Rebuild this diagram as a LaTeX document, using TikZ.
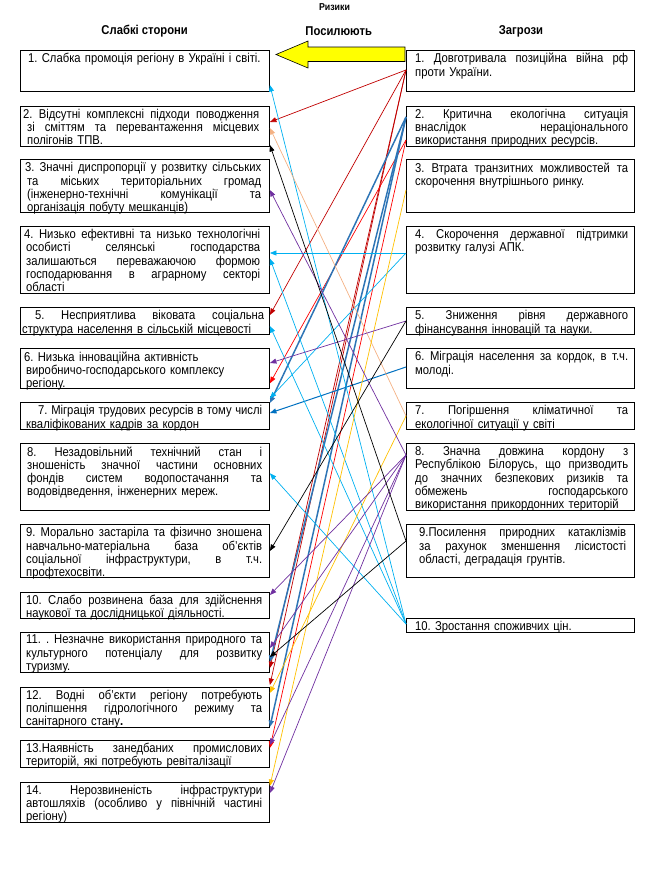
\documentclass[tikz,border=0pt]{standalone}
\usepackage{fontspec}
\setmainfont[FakeStretch=0.88]{Liberation Sans}
\usetikzlibrary{arrows.meta,calc}
\definecolor{dred}{HTML}{C00000}
\definecolor{bred}{HTML}{FF0000}
\definecolor{tblue}{HTML}{2E75B6}
\definecolor{mblue}{HTML}{0070C0}
\definecolor{lblue}{HTML}{00B0F0}
\definecolor{peach}{HTML}{F4B183}
\definecolor{ylw}{HTML}{FFC000}
\definecolor{prp}{HTML}{7030A0}
\definecolor{bigyellow}{HTML}{FFFF00}
\newcommand\jw[2]{\makebox[#1][s]{\spaceskip=0pt\xspaceskip=0pt #2}}
\newcommand\jl[1]{\jw{236pt}{#1}}
\newcommand\jr[1]{\jw{213pt}{#1}}
\newcommand\jrn[1]{\jw{207pt}{#1}}
\begin{document}
\begin{tikzpicture}[x=1pt,y=-1pt,
  lbox/.style={draw=black,line width=0.9pt,inner sep=0pt,anchor=north west,minimum width=249pt,minimum height=#1},
  rbox/.style={draw=black,line width=0.9pt,inner sep=0pt,anchor=north west,minimum width=228pt,minimum height=#1},
  txt/.style={inner sep=0pt,anchor=north west,align=left,text width=#1,font={\fontsize{12.8}{13.3}\selectfont\parindent=0pt\frenchspacing}},
  hdr/.style={inner sep=0pt,font={\fontsize{12.8}{14}\selectfont\bfseries}},
  con/.style={line width=0.7pt,-{Triangle[length=6.5pt,width=5pt]}},
  thick con/.style={line width=1.5pt,-{Triangle[length=6.5pt,width=5pt]}}
]
\useasboundingbox (0,0) rectangle (667,884);

% headers
\node[inner sep=0pt,font={\fontsize{10}{11}\selectfont\bfseries}] (title) at (334.5,7.5) {Ризики};
\node[hdr] (hL) at (144.7,31) {Слабкі сторони};
\node[hdr] (hM) at (338.7,31) {Посилюють};
\node[hdr] (hR) at (521,31) {Загрози};

% big yellow arrow
\filldraw[fill=bigyellow,draw=black,line width=0.6pt]
  (276,54.5) -- (308,41) -- (308,47) -- (405,47) -- (405,61.5) -- (308,61.5) -- (308,68) -- cycle;

% left boxes
\node[lbox=41pt]   (L1)  at (20,50) {};
\node[lbox=40pt]   (L2)  at (20,105.7) {};
\node[lbox=53pt]   (L3)  at (20,159.3) {};
\node[lbox=67.3pt] (L4)  at (20,226) {};
\node[lbox=27pt]   (L5)  at (20,307.3) {};
\node[lbox=40pt]   (L6)  at (20,348.3) {};
\node[lbox=27pt]   (L7)  at (20,402.3) {};
\node[lbox=67pt]   (L8)  at (20,443.3) {};
\node[lbox=53pt]   (L9)  at (20,524.3) {};
\node[lbox=26.6pt] (L10) at (20,591.7) {};
\node[lbox=40.6pt] (L11) at (20,631.7) {};
\node[lbox=40pt]   (L12) at (20,686.7) {};
\node[lbox=27.3pt] (L13) at (20,740) {};
\node[lbox=40pt]   (L14) at (20,781.7) {};

% right boxes
\node[rbox=41pt]   (R1)  at (406,50) {};
\node[rbox=40pt]   (R2)  at (406,105.7) {};
\node[rbox=53pt]   (R3)  at (406,159.3) {};
\node[rbox=67.3pt] (R4)  at (406,226) {};
\node[rbox=27pt]   (R5)  at (406,307.3) {};
\node[rbox=40pt]   (R6)  at (406,348.3) {};
\node[rbox=27pt]   (R7)  at (406,402.3) {};
\node[rbox=67pt]   (R8)  at (406,443.3) {};
\node[rbox=53pt]   (R9)  at (406,524.3) {};
\node[rbox=14pt]   (R10) at (406,618.3) {};

% left texts
\node[txt=236pt] (L1t) at ([shift={(8,3)}]L1.north west) {1. Слабка промоція регіону в Україні і світі.};
\node[txt=236pt] (L2t) at ([shift={(3,3)}]L2.north west) {\jl{2. Відсутні комплексні підходи поводження}\\\hspace*{4pt}\jw{232pt}{зі сміттям та перевантаження місцевих}\\\hspace*{4pt}полігонів ТПВ.};
\node[txt=236pt] (L3t) at ([shift={(5,3)}]L3.north west) {\jl{3. Значні диспропорції у розвитку сільських}\\\hspace*{2pt}\jw{234pt}{та міських територіальних громад}\\\hspace*{2pt}\jw{234pt}{(інженерно-технічні комунікації та}\\\hspace*{2pt}організація побуту мешканців)};
\node[txt=236pt] (L4t) at ([shift={(4,3)}]L4.north west) {\jl{4. Низько ефективні та низько технологічні}\\\hspace*{2pt}\jw{234pt}{особисті селянські господарства}\\\hspace*{2pt}\jw{234pt}{залишаються переважаючою формою}\\\hspace*{2pt}\jw{234pt}{господарювання в аграрному секторі}\\\hspace*{2pt}області};
\node[txt=242pt] (L5t) at ([shift={(2,3)}]L5.north west) {\hspace*{13pt}\jw{229pt}{5. Несприятлива віковата соціальна}\\структура населення в сільській місцевості};
\node[txt=236pt] (L6t) at ([shift={(4,3)}]L6.north west) {6. Низька інноваційна активність\\\hspace*{2pt}виробничо-господарського комплексу\\\hspace*{2pt}регіону.};
\node[txt=236pt] (L7t) at ([shift={(6,3)}]L7.north west) {\hspace*{12pt}\jw{224pt}{7. Міграція трудових ресурсів в тому числі}\\кваліфікованих кадрів за кордон};
\node[txt=236pt] (L8t) at ([shift={(7,3)}]L8.north west) {\jw{235pt}{8. Незадовільний технічний стан і}\\\jw{235pt}{зношеність значної частини основних}\\\jw{235pt}{фондів систем водопостачання та}\\водовідведення, інженерних мереж.};
\node[txt=236pt] (L9t) at ([shift={(6,3)}]L9.north west) {\jl{9. Морально застаріла та фізично зношена}\\\jl{навчально-матеріальна база об’єктів}\\\jl{соціальної інфраструктури, в т.ч.}\\профтехосвіти.};
\node[txt=236pt] (L10t) at ([shift={(6,3)}]L10.north west) {\jl{10. Слабо розвинена база для здійснення}\\наукової та дослідницької діяльності.};
\node[txt=236pt] (L11t) at ([shift={(6,3)}]L11.north west) {\jl{11. . Незначне використання природного та}\\\jl{культурного потенціалу для розвитку}\\туризму.};
\node[txt=236pt] (L12t) at ([shift={(6,3)}]L12.north west) {\jl{12. Водні об’єкти регіону потребують}\\\jl{поліпшення гідрологічного режиму та}\\санітарного стану\textbf{.}};
\node[txt=236pt] (L13t) at ([shift={(6,3)}]L13.north west) {\jl{13.Наявність занедбаних промислових}\\територій, які потребують ревіталізації};
\node[txt=236pt] (L14t) at ([shift={(6,3)}]L14.north west) {\jl{14. Нерозвиненість інфраструктури}\\\jl{автошляхів (особливо у північній частині}\\регіону)};

% right texts
\node[txt=213pt] (R1t) at ([shift={(9,3)}]R1.north west) {\jr{1. Довготривала позиційна війна рф}\\проти України.};
\node[txt=213pt] (R2t) at ([shift={(9,3)}]R2.north west) {\jr{2. Критична екологічна ситуація}\\\jr{внаслідок нераціонального}\\використання природних ресурсів.};
\node[txt=213pt] (R3t) at ([shift={(9,3)}]R3.north west) {\jr{3. Втрата транзитних можливостей та}\\скорочення внутрішнього ринку.};
\node[txt=213pt] (R4t) at ([shift={(9,3)}]R4.north west) {\jr{4. Скорочення державної підтримки}\\розвитку галузі АПК.};
\node[txt=213pt] (R5t) at ([shift={(9,3)}]R5.north west) {\jr{5. Зниження рівня державного}\\фінансування інновацій та науки.};
\node[txt=213pt] (R6t) at ([shift={(9,3)}]R6.north west) {\jr{6. Міграція населення за кордок, в т.ч.}\\молоді.};
\node[txt=213pt] (R7t) at ([shift={(9,3)}]R7.north west) {\jr{7. Погіршення кліматичної та}\\екологічної ситуації у світі};
\node[txt=213pt] (R8t) at ([shift={(9,3)}]R8.north west) {\jr{8. Значна довжина кордону з}\\\jr{Республікою Білорусь, що призводить}\\\jr{до значних безпекових ризиків та}\\\jr{обмежень господарського}\\використання прикордонних територій};
\node[txt=207pt] (R9t) at ([shift={(13,3)}]R9.north west) {\jrn{9.Посилення природних катаклізмів}\\\jrn{за рахунок зменшення лісистості}\\області, деградація грунтів.};
\node[txt=213pt] (R10t) at ([shift={(9,3)}]R10.north west) {10. Зростання споживчих цін.};

% connectors: dark red from R1
\draw[con,dred] ([yshift=-20pt]R1.north west) -- ([yshift=-16.3pt]L2.north east);
\draw[con,dred] ([yshift=-20pt]R1.north west) -- ([yshift=-7.7pt]L5.north east);
\draw[con,dred] ([yshift=-20pt]R1.north west) -- ([yshift=-36.3pt]L11.north east);
\draw[con,dred] ([yshift=-20pt]R1.north west) -- ([yshift=1.7pt]L12.north east);
% bright red from R2
\draw[con,bred] ([yshift=-34.3pt]R2.north west) -- ([yshift=-35pt]L6.north east);
\draw[con,bred] ([yshift=-34.3pt]R2.north west) -- ([yshift=-8pt]L13.north east);
% thick blue from R2
\draw[thick con,tblue] ([yshift=-11.3pt]R2.north west) -- ([yshift=-0.7pt]L7.north east);
\draw[thick con,tblue] ([yshift=-11.3pt]R2.north west) -- ([yshift=-30.3pt]L11.north east);
\draw[thick con,tblue] ([yshift=-11.3pt]R2.north west) -- ([yshift=-40.3pt]L12.north east);
% medium blue from R6
\draw[con,mblue,line width=1pt] ([yshift=-18.7pt]R6.north west) -- ([yshift=-10.7pt]L7.north east);
% light blue
\draw[con,lblue] ([yshift=-27pt]R4.north west) -- ([yshift=-27pt]L4.north east);
\draw[con,lblue] ([yshift=-27pt]R4.north west) -- ([yshift=4pt]L7.north east);
\draw[con,lblue] ([yshift=-5.7pt]R10.north west) -- ([yshift=-35pt]L1.north east);
\draw[con,lblue] ([yshift=-5.7pt]R10.north west) -- ([yshift=-32.5pt]L4.north east);
\draw[con,lblue] ([yshift=-5.7pt]R10.north west) -- ([yshift=-18.7pt]L5.north east);
\draw[con,lblue] ([yshift=-5.7pt]R10.north west) -- ([yshift=-30pt]L8.north east);
% peach
\draw[con,peach] ([yshift=-13.7pt]R7.north west) -- ([yshift=-22.3pt]L2.north east);
% yellow
\draw[con,ylw] ([yshift=-30.7pt]R3.north west) -- ([yshift=-4.3pt]L14.north east);
\draw[con,ylw] ([yshift=-13.7pt]R7.north west) -- ([yshift=-6.3pt]L12.north east);
% purple
\draw[con,prp] ([yshift=-13.7pt]R5.north west) -- ([yshift=-14.7pt]L6.north east);
\draw[con,prp] ([yshift=-11.7pt]R8.north west) -- ([yshift=-30.7pt]L3.north east);
\draw[con,prp] ([yshift=-11.7pt]R8.north west) -- ([yshift=-3.3pt]L10.north east);
\draw[con,prp] ([yshift=-11.7pt]R8.north west) -- ([yshift=-16.3pt]L11.north east);
\draw[con,prp] ([yshift=-11.7pt]R8.north west) -- ([yshift=-5pt]L13.north east);
\draw[con,prp] ([yshift=-11.7pt]R8.north west) -- ([yshift=-11.3pt]L14.north east);
% black
\draw[con,black] ([yshift=-16.7pt]R9.north west) -- ([yshift=-39.3pt]L2.north east);
\draw[con,black] ([yshift=-13.7pt]R5.north west) -- ([yshift=-26.7pt]L9.north east);
\draw[con,black] ([yshift=-16.7pt]R9.north west) -- ([yshift=-25.3pt]L11.north east);
\end{tikzpicture}
\end{document}
